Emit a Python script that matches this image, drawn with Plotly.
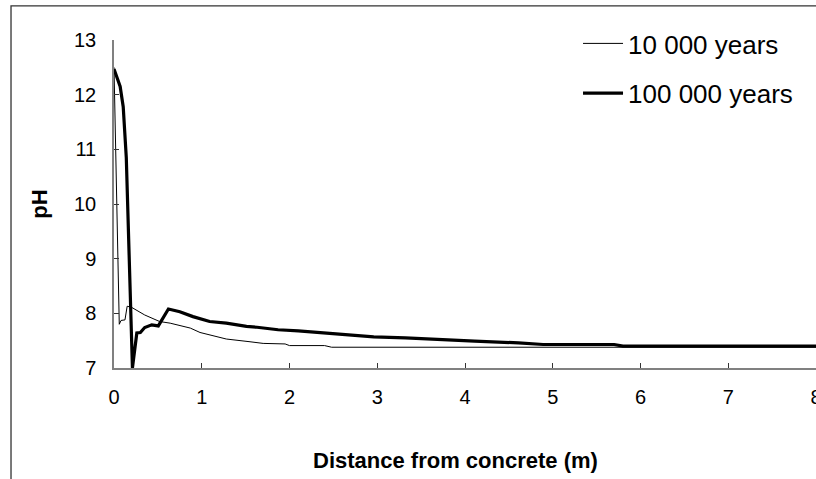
import plotly.graph_objects as go

# Distance from concrete (m) and pH, 10 000 years
thin_x = [0, 0.06, 0.08, 0.125, 0.15, 0.2, 0.35, 0.52, 0.64, 0.87, 0.98, 1.28,
          1.55, 1.7, 1.95, 2.0, 2.4, 2.48, 8]
thin_y = [12.5, 7.8, 7.87, 7.88, 8.13, 8.11, 7.97, 7.85, 7.82, 7.73, 7.65, 7.53,
          7.48, 7.45, 7.44, 7.41, 7.41, 7.38, 7.38]

# 100 000 years
thick_x = [0, 0.07, 0.105, 0.14, 0.21, 0.26, 0.30, 0.35, 0.43, 0.505, 0.62, 0.75,
           0.90, 1.09, 1.28, 1.51, 1.63, 1.78, 1.87, 2.10, 2.37, 2.59, 2.96, 3.32,
           3.66, 4.11, 4.61, 4.89, 5.7, 5.8, 8]
thick_y = [12.47, 12.15, 11.78, 10.85, 7.0, 7.64, 7.65, 7.74, 7.79, 7.77, 8.08, 8.03,
           7.94, 7.85, 7.82, 7.76, 7.745, 7.71, 7.70, 7.68, 7.65, 7.62, 7.57, 7.55,
           7.52, 7.49, 7.46, 7.43, 7.43, 7.40, 7.40]

series_names = ["10 000 years", "100 000 years"]
x_ticks = [0, 1, 2, 3, 4, 5, 6, 7, 8]
y_ticks = [7, 8, 9, 10, 11, 12, 13]
x_title = "Distance from concrete (m)"
y_title = "pH"

FONT = "Liberation Sans, Arial, sans-serif"

fig = go.Figure()
fig.add_trace(go.Scatter(x=thin_x, y=thin_y, mode="lines", name=series_names[0],
                         line=dict(color="black", width=1), legendgroup="a"))
fig.add_trace(go.Scatter(x=thick_x, y=thick_y, mode="lines", name=series_names[1],
                         line=dict(color="black", width=3.2), legendgroup="b"))

fig.update_layout(
    width=816, height=479,
    margin=dict(l=114, r=0, t=40, b=111),
    paper_bgcolor="white", plot_bgcolor="white",
    font=dict(family=FONT, color="black", size=20),
    showlegend=True,
    legend=dict(x=0.661, y=1.061, xanchor="left", yanchor="top",
                font=dict(size=26, family=FONT), bgcolor="rgba(0,0,0,0)",
                tracegroupgap=13, traceorder="grouped", itemwidth=40),
    xaxis=dict(range=[0, 8], tickvals=x_ticks, ticks="inside", ticklen=5,
               tickcolor="#333", showline=True, linecolor="#808080", linewidth=1.5,
               showgrid=False, zeroline=False, ticklabelstandoff=10,
               ticklabeloverflow="allow", automargin=False),
    yaxis=dict(range=[7, 13], tickvals=y_ticks, ticks="inside", ticklen=5,
               tickcolor="#333", showline=True, linecolor="#808080", linewidth=1.5,
               showgrid=False, zeroline=False, ticklabelstandoff=12, automargin=False,
               title=dict(text="<b>" + y_title + "</b>", standoff=20,
                          font=dict(size=22))),
    annotations=[dict(text="<b>" + x_title + "</b>", xref="paper", yref="paper",
                      x=0.486, y=-0.2835, xanchor="center", yanchor="middle",
                      showarrow=False, font=dict(size=22, family=FONT))],
    shapes=[dict(type="rect", xref="paper", yref="paper",
                 x0=-0.1467, x1=1.2, y0=-0.6, y1=1.104,
                 line=dict(color="#333333", width=1.3), fillcolor="rgba(0,0,0,0)",
                 layer="below")],
)

fig.write_html("out.html",
               config={"displayModeBar": False},
               post_script="document.body.style.margin='0';"
                           "document.body.style.overflow='hidden';")
